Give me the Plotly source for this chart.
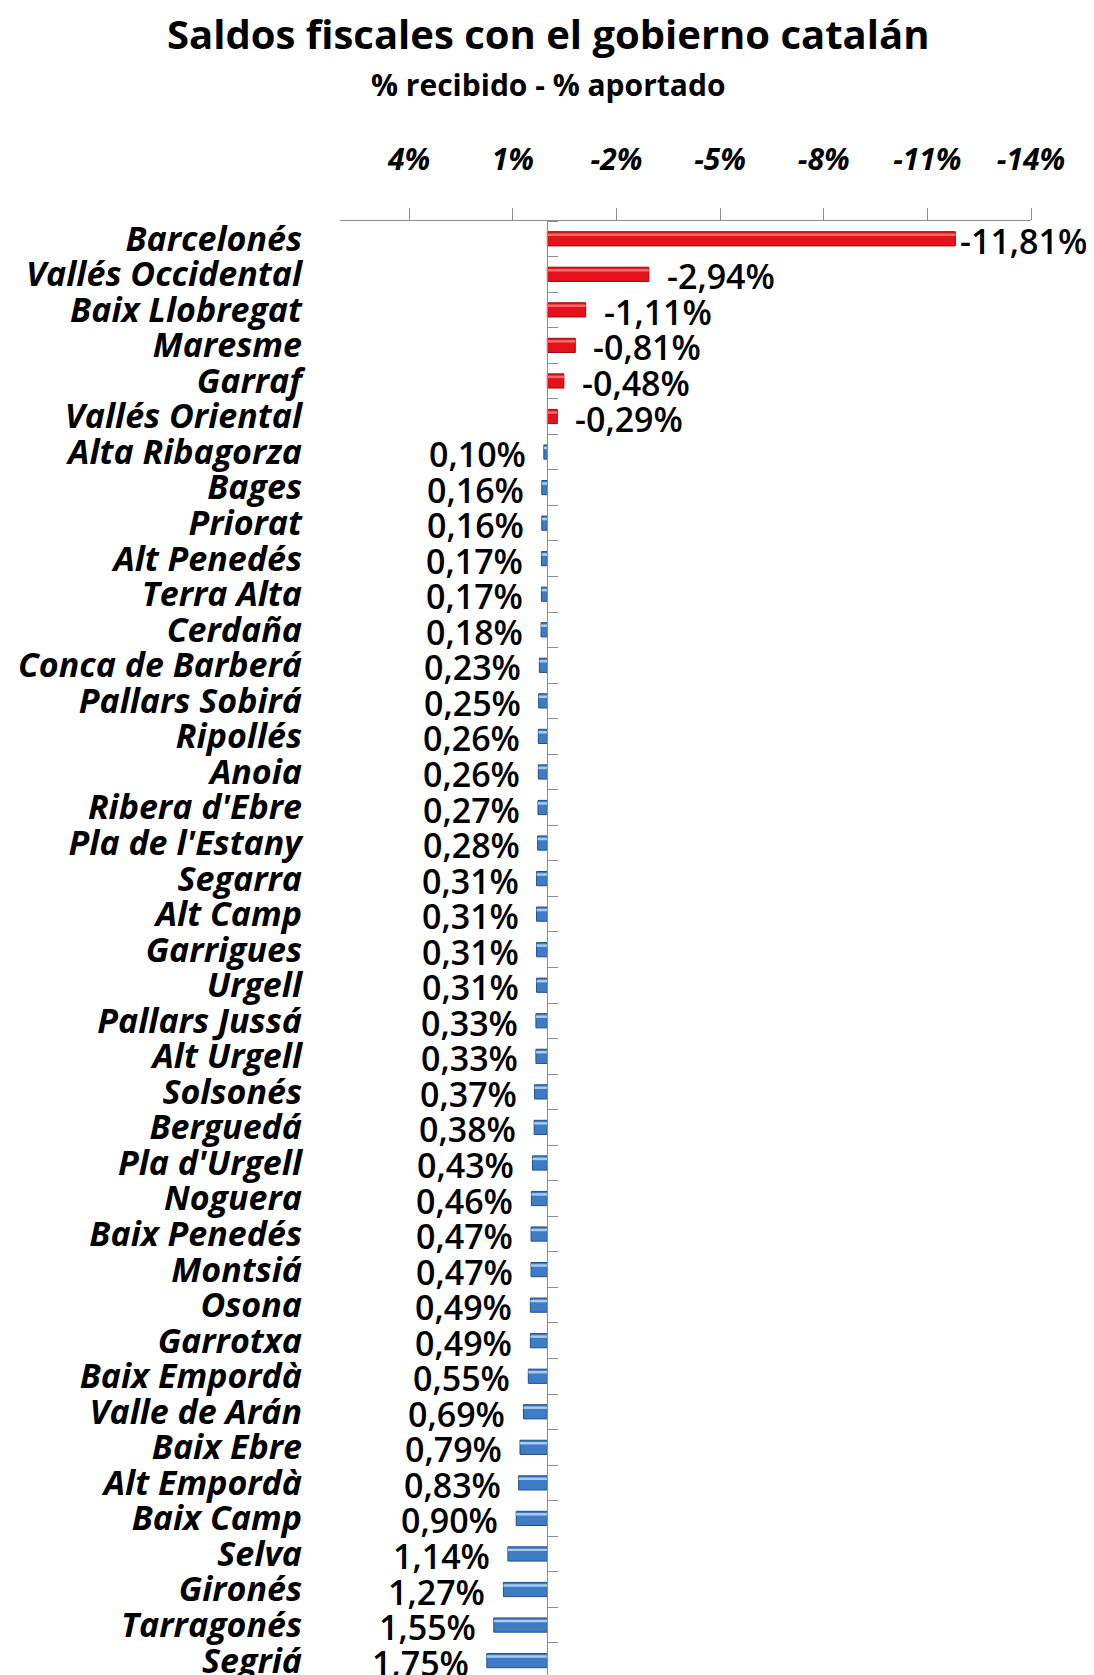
import plotly.graph_objects as go

categories = ["Barcelonés", "Vallés Occidental", "Baix Llobregat", "Maresme", "Garraf",
              "Vallés Oriental", "Alta Ribagorza", "Bages", "Priorat", "Alt Penedés",
              "Terra Alta", "Cerdaña", "Conca de Barberá", "Pallars Sobirá", "Ripollés",
              "Anoia", "Ribera d'Ebre", "Pla de l'Estany", "Segarra", "Alt Camp",
              "Garrigues", "Urgell", "Pallars Jussá", "Alt Urgell", "Solsonés",
              "Berguedá", "Pla d'Urgell", "Noguera", "Baix Penedés", "Montsiá",
              "Osona", "Garrotxa", "Baix Empordà", "Valle de Arán", "Baix Ebre",
              "Alt Empordà", "Baix Camp", "Selva", "Gironés", "Tarragonés", "Segriá"]
values = [-11.81, -2.94, -1.11, -0.81, -0.48, -0.29, 0.10, 0.16, 0.16, 0.17,
          0.17, 0.18, 0.23, 0.25, 0.26, 0.26, 0.27, 0.28, 0.31, 0.31,
          0.31, 0.31, 0.33, 0.33, 0.37, 0.38, 0.43, 0.46, 0.47, 0.47,
          0.49, 0.49, 0.55, 0.69, 0.79, 0.83, 0.90, 1.14, 1.27, 1.55, 1.75]
x_ticks = [4, 1, -2, -5, -8, -11, -14]

X_MAX, X_MIN = 6, -14
Y_END = 40.63

FONT = "Open Sans"
RED, RED_HI, RED_LN = "#E3121B", "#FF6A6A", "#9E0A0F"
BLUE, BLUE_HI, BLUE_LN = "#3F7CC6", "#A9CBF0", "#1F4F8A"

L, R, T = 332, 71, 213
PLOT_W = 1094 - L - R

main_cols = [RED if v < 0 else BLUE for v in values]
main_lines = [RED_LN if v < 0 else BLUE_LN for v in values]
hi_cols = [RED_HI if v < 0 else BLUE_HI for v in values]

fig = go.Figure()
fig.add_trace(go.Bar(x=values, y=categories, orientation="h", width=0.4,
                     marker=dict(color=main_cols, line=dict(color=main_lines, width=1)),
                     hoverinfo="skip", showlegend=False))
fig.add_trace(go.Bar(x=values, y=categories, orientation="h", width=0.07, offset=-0.15,
                     marker=dict(color=hi_cols, line=dict(width=0)),
                     hoverinfo="skip", showlegend=False))
# invisible trace on the zero axis
fig.add_trace(go.Scatter(x=[0], y=[0], yaxis="y2", mode="markers",
                         marker=dict(opacity=0), hoverinfo="skip", showlegend=False))


def fmt(v):
    return ("%.2f" % v).replace(".", ",") + "%"


for c, v in zip(categories, values):
    if v < 0:
        shift = 3 if v < -10 else 16
        fig.add_annotation(x=v, y=c, text=fmt(v), showarrow=False, xanchor="left",
                           xshift=shift, yshift=-2,
                           font=dict(family=FONT, size=34, color="black", weight=600))
    else:
        fig.add_annotation(x=v, y=c, text=fmt(v), showarrow=False, xanchor="right",
                           xshift=-16, yshift=-2,
                           font=dict(family=FONT, size=34, color="black", weight=600))

title_x = (540 - L) / PLOT_W
fig.add_annotation(text="Saldos fiscales con el gobierno catalán", xref="paper",
                   yref="paper", x=title_x, y=1, yshift=188, showarrow=False,
                   xanchor="center", yanchor="middle",
                   font=dict(family=FONT, size=40, color="black", weight=700))
fig.add_annotation(text="% recibido - % aportado", xref="paper", yref="paper",
                   x=title_x, y=1, yshift=137, showarrow=False,
                   xanchor="center", yanchor="middle",
                   font=dict(family=FONT, size=30, color="black", weight=700))

zero_pos = (X_MAX - 0) / (X_MAX - X_MIN)

fig.update_layout(
    width=1094, height=1675,
    margin=dict(l=L, r=R, t=T, b=0),
    paper_bgcolor="white", plot_bgcolor="white",
    barmode="overlay",
    xaxis=dict(range=[X_MAX, X_MIN], side="top", tickmode="array", tickvals=x_ticks,
               ticktext=["<i><b>%d%%</b></i>" % t for t in x_ticks],
               ticks="outside", ticklen=12, tickcolor="#8c8c8c",
               showline=True, linecolor="#8c8c8c", linewidth=1,
               showgrid=False, zeroline=False, ticklabelstandoff=26,
               tickfont=dict(family=FONT, size=30, color="black")),
    yaxis=dict(type="category", range=[Y_END, -0.5], showgrid=False, showline=False,
               ticks="", ticklabelstandoff=37,
               tickfont=dict(family=FONT, size=34, color="black"),
               tickvals=categories,
               ticktext=["<i><b>%s</b></i>" % c for c in categories]),
    yaxis2=dict(overlaying="y", anchor="free", position=zero_pos, side="right",
                range=[Y_END, -0.5], tickmode="linear", tick0=-0.5, dtick=1,
                ticks="outside", ticklen=10, tickcolor="#8c8c8c",
                showline=True, linecolor="#8c8c8c", linewidth=1,
                showticklabels=False, showgrid=False, zeroline=False),
)

fig.write_html("out.html")
